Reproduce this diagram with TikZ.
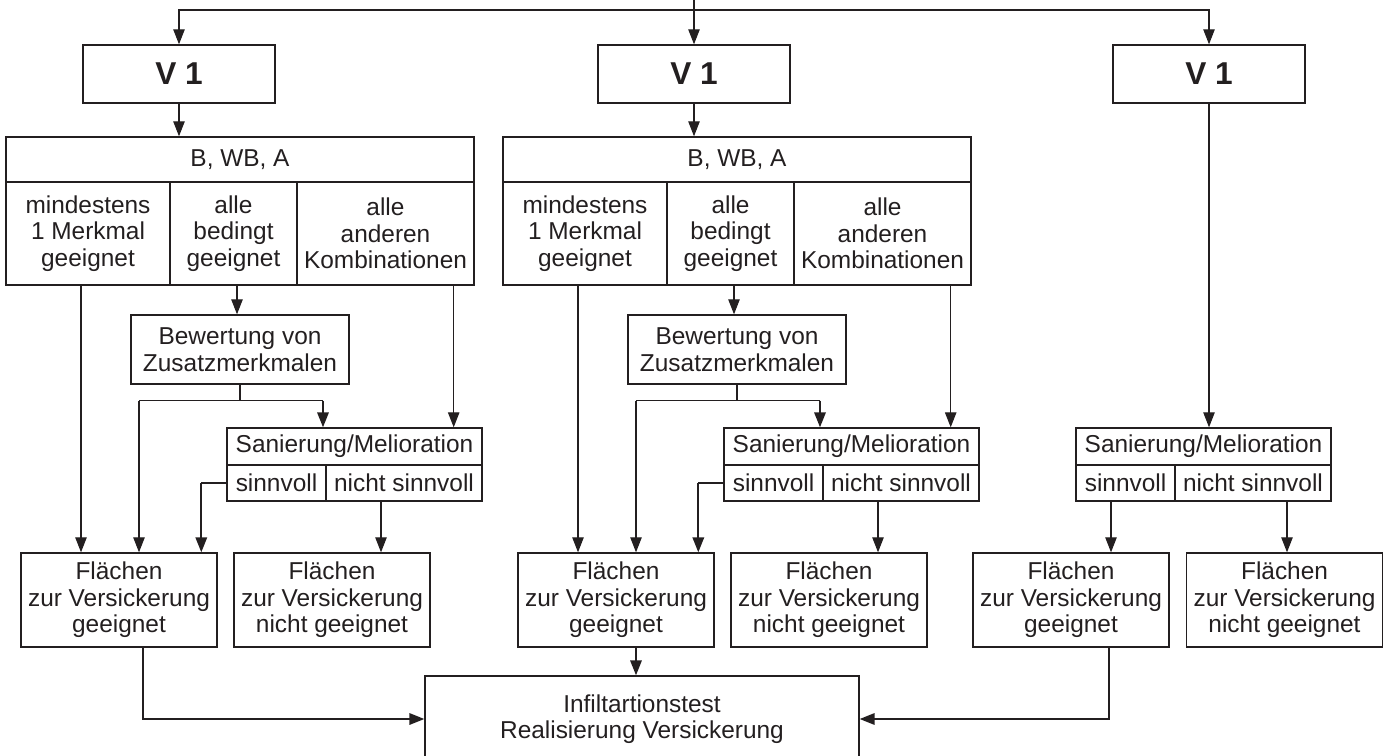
\documentclass[tikz,border=0pt]{standalone}
\usepackage{fontspec}
\setmainfont{Liberation Sans}
\usetikzlibrary{arrows.meta, positioning}
\definecolor{ink}{RGB}{35,31,32}
\tikzset{
    flowBox/.style={draw=ink, line width=0.8pt, rectangle, inner sep=0pt, align=center, text=ink, font=\fontsize{13.9}{15.1}\selectfont},
    vBox/.style={flowBox, minimum width=3.84cm, minimum height=1.16cm, font=\fontsize{18}{20}\selectfont\bfseries},
    cellBox/.style={flowBox, minimum height=2.06cm},
    rowBox/.style={flowBox, minimum height=0.72cm},
    areaBox/.style={flowBox, minimum width=3.92cm, minimum height=1.88cm},
    thinLine/.style={draw=ink, line width=0.6pt},
    thickLine/.style={draw=ink, line width=1.1pt}
}

\begin{document}
\begin{tikzpicture}[x=0.02cm, y=-0.02cm, >={Triangle[length=8.5pt, width=6.5pt]}]
    \useasboundingbox (0,0) rectangle (1388,756);
    % verteilung oben
    \node[vBox] (V1A) at (179,74) {V 1};
    \node[vBox] (V1B) at (694,74) {V 1};
    \node[vBox] (V1C) at (1209,74) {V 1};
    \coordinate (top) at (694,0);
    \coordinate (bus) at (694,10);
    \draw[thinLine,->] (top) -- (V1B.north);
    \draw[thinLine,->] (bus) -| (V1A.north);
    \draw[thinLine,->] (bus) -| (V1C.north);

    % linker und mittlerer zweig
    \foreach \dx/\n in {0/A, 497/B} {
        \node[flowBox, minimum width=9.36cm, minimum height=0.9cm] (hdr\n) at (240+\dx,159.5) {B, WB, A};
        \node[cellBox, minimum width=3.28cm] (cA\n) at (88+\dx,233.5) {mindestens\\1 Merkmal\\geeignet};
        \node[cellBox, minimum width=2.54cm] (cB\n) at (233.5+\dx,233.5) {alle\\bedingt\\geeignet};
        \node[cellBox, minimum width=3.54cm] (cC\n) at (385.5+\dx,233.5) {alle\\anderen\\Kombinationen};
        \node[flowBox, minimum width=4.36cm, minimum height=1.38cm] (bew\n) at (240+\dx,349.5) {Bewertung von\\Zusatzmerkmalen};
        \node[flowBox, minimum width=5.1cm, minimum height=0.74cm] (san\n) at (354.5+\dx,446.5) {Sanierung/Melioration};
        \node[rowBox, minimum width=1.98cm] (sv\n) at (276.5+\dx,483) {sinnvoll};
        \node[rowBox, minimum width=3.12cm] (ns\n) at (404+\dx,483) {nicht sinnvoll};
        \node[areaBox] (fg\n) at (119+\dx,600) {Flächen\\zur Versickerung\\geeignet};
        \node[areaBox] (fn\n) at (332+\dx,600) {Flächen\\zur Versickerung\\nicht geeignet};
        \coordinate (spL\n) at (139+\dx,400.5);
        \coordinate (spR\n) at (323+\dx,400.5);
        \coordinate (k1\n) at ([xshift=-0.14cm]cA\n.south);
        \coordinate (k2\n) at ([xshift=0.07cm]cB\n.south);
        \coordinate (k3\n) at ([xshift=-0.42cm]cC\n.south east);
        \coordinate (k5\n) at ([xshift=-0.46cm]ns\n.south);
        \draw[thinLine,->] (V1\n.south) -- (V1\n.south |- hdr\n.north);
        \draw[thinLine,->] (k1\n) -- (k1\n |- fg\n.north);
        \draw[thinLine,->] (k2\n) -- (k2\n |- bew\n.north);
        \draw[thinLine,->] (k3\n) -- (k3\n |- san\n.north);
        \draw[thinLine] (bew\n.south) -- (bew\n.south |- spL\n);
        \draw[thinLine] (spL\n) -- (spR\n);
        \draw[thinLine,->] (spL\n) -- (spL\n |- fg\n.north);
        \draw[thickLine,->] (spR\n) -- (spR\n |- san\n.north);
        \draw[thinLine] (sv\n.west) -- ++(-25,0) coordinate (k4\n);
        \draw[thickLine,->] (k4\n) -- (k4\n |- fg\n.north);
        \draw[thinLine,->] (k5\n) -- (k5\n |- fn\n.north);
    }

    % rechter zweig
    \node[flowBox, minimum width=5.1cm, minimum height=0.74cm] (sanC) at (1203.5,446.5) {Sanierung/Melioration};
    \node[rowBox, minimum width=1.98cm] (svC) at (1125.5,483) {sinnvoll};
    \node[rowBox, minimum width=3.12cm] (nsC) at (1253,483) {nicht sinnvoll};
    \node[areaBox] (fgC) at (1071,600) {Flächen\\zur Versickerung\\geeignet};
    \node[areaBox] (fnC) at (1284.5,600) {Flächen\\zur Versickerung\\nicht geeignet};
    \coordinate (k6) at ([xshift=-0.29cm]svC.south);
    \coordinate (k7) at ([xshift=0.68cm]nsC.south);
    \draw[thinLine,->] (V1C.south) -- (V1C.south |- sanC.north);
    \draw[thinLine,->] (k6) -- (k6 |- fgC.north);
    \draw[thinLine,->] (k7) -- (k7 |- fnC.north);

    % infiltration
    \node[flowBox, minimum width=8.68cm, minimum height=1.72cm] (inf) at (642,719) {Infiltartionstest\\Realisierung Versickerung};
    \draw[thickLine,->] ([xshift=0.48cm]fgA.south) |- (inf.west);
    \draw[thickLine,->] (spLB |- fgB.south) -- (spLB |- inf.north);
    \draw[thickLine,->] ([xshift=0.76cm]fgC.south) |- (inf.east);
\end{tikzpicture}
\end{document}
